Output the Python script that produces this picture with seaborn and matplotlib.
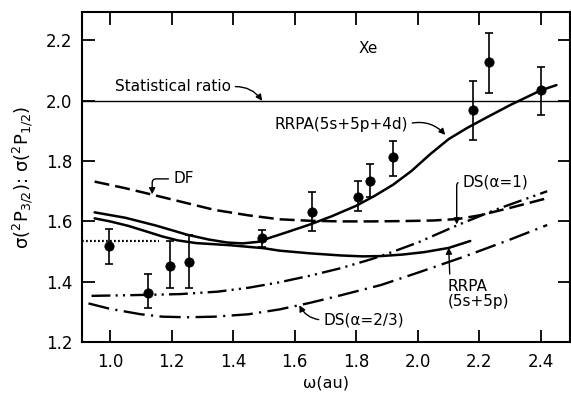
import matplotlib
matplotlib.use("Agg")
import matplotlib.pyplot as plt
import seaborn as sns
import numpy as np

# ---------------- data ----------------
# measured points
pts_w  = [0.996, 1.123, 1.195, 1.255, 1.493, 1.656, 1.806, 1.846, 1.918, 2.178, 2.231, 2.399]
pts_v  = [1.518, 1.364, 1.453, 1.464, 1.544, 1.632, 1.682, 1.735, 1.813, 1.968, 2.128, 2.035]
err_lo = [1.460, 1.312, 1.378, 1.378, 1.514, 1.569, 1.635, 1.682, 1.751, 1.870, 2.027, 1.953]
err_hi = [1.576, 1.425, 1.536, 1.555, 1.571, 1.697, 1.733, 1.789, 1.868, 2.067, 2.226, 2.113]

# RRPA (5s+5p+4d)
rrpa4d_w = [0.95, 1.05, 1.15, 1.25, 1.32, 1.38, 1.43, 1.48, 1.52, 1.58, 1.65, 1.72, 1.80,
            1.86, 1.92, 1.98, 2.04, 2.10, 2.16, 2.22, 2.30, 2.40, 2.45]
rrpa4d_v = [1.630, 1.612, 1.586, 1.556, 1.540, 1.530, 1.527, 1.532, 1.546, 1.566, 1.590, 1.617,
            1.652, 1.685, 1.722, 1.768, 1.823, 1.873, 1.910, 1.943, 1.986, 2.035, 2.052]

# RRPA (5s+5p)
rrpa_w = [0.95, 1.00, 1.06, 1.12, 1.17, 1.22, 1.28, 1.39, 1.50, 1.55, 1.65, 1.75, 1.82,
          1.88, 1.95, 2.02, 2.10, 2.17]
rrpa_v = [1.610, 1.600, 1.585, 1.566, 1.550, 1.537, 1.528, 1.521, 1.511, 1.503, 1.494, 1.487,
          1.484, 1.485, 1.490, 1.498, 1.512, 1.535]

# DF
df_w = [0.95, 1.05, 1.14, 1.24, 1.34, 1.45, 1.55, 1.65, 1.75, 1.85, 1.95, 2.05, 2.13, 2.20, 2.30, 2.42]
df_v = [1.732, 1.710, 1.688, 1.663, 1.638, 1.620, 1.607, 1.602, 1.600, 1.600, 1.601, 1.603,
        1.608, 1.620, 1.645, 1.677]

# DS (alpha = 1)
ds1_w = [0.94, 1.05, 1.15, 1.23, 1.35, 1.45, 1.55, 1.65, 1.75, 1.85, 1.91, 2.00, 2.13, 2.25, 2.42]
ds1_v = [1.353, 1.355, 1.357, 1.359, 1.367, 1.380, 1.398, 1.420, 1.445, 1.475, 1.496, 1.530,
         1.588, 1.638, 1.700]

# DS (alpha = 2/3)
ds23_w = [0.93, 1.00, 1.10, 1.17, 1.25, 1.34, 1.45, 1.55, 1.65, 1.75, 1.88, 2.00, 2.15, 2.30, 2.42]
ds23_v = [1.328, 1.310, 1.292, 1.284, 1.282, 1.284, 1.292, 1.308, 1.330, 1.355, 1.389, 1.430,
          1.483, 1.540, 1.588]

# dotted reference level and statistical ratio
dotted_w = [0.909, 1.16]
dotted_v = [1.536, 1.536]
stat_w = [0.909, 2.494]
stat_v = [2.0, 2.0]

xticks = [1.0, 1.2, 1.4, 1.6, 1.8, 2.0, 2.2, 2.4]
yticks = [1.2, 1.4, 1.6, 1.8, 2.0, 2.2]

# ---------------- style ----------------
sns.set_style("ticks", {"xtick.direction": "in", "ytick.direction": "in"})
plt.rcParams["font.family"] = ["DejaVu Sans"]
plt.rcParams["mathtext.default"] = "regular"

fig = plt.figure(figsize=(5.71, 3.96), dpi=100)
ax = fig.add_axes([82 / 571, 1 - 342 / 396, (570 - 82) / 571, (342 - 12) / 396])

K = "black"

def line(w, v, lw, ls):
    sns.lineplot(x=w, y=v, ax=ax, color=K, lw=lw, estimator=None, sort=False)
    ln = ax.lines[-1]
    if ls is not None:
        ln.set_dashes(ls)
    return ln

line(stat_w, stat_v, 1.0, None)
line(rrpa4d_w, rrpa4d_v, 1.8, None)
line(rrpa_w, rrpa_v, 1.8, None)
line(df_w, df_v, 1.8, (6, 2.4))
line(ds1_w, ds1_v, 1.7, (8, 2.2, 0.9, 2.2, 0.9, 2.2))
line(ds23_w, ds23_v, 1.7, (9, 2.7, 0.9, 2.7))
line(dotted_w, dotted_v, 1.6, (0.8, 1.0))

# error bars and points
ax.errorbar(pts_w, pts_v,
            yerr=[np.array(pts_v) - np.array(err_lo), np.array(err_hi) - np.array(pts_v)],
            fmt="none", ecolor=K, elinewidth=1.2, capsize=3, capthick=1.2, zorder=3)
sns.scatterplot(x=pts_w, y=pts_v, ax=ax, color=K, s=45, edgecolor=K, zorder=4)

ax.set_xlim(0.909, 2.494)
ax.set_ylim(1.2, 2.2945)
ax.set_xticks(xticks)
ax.set_yticks(yticks)
ax.set_xticklabels([f"{t:.1f}" for t in xticks])
ax.set_yticklabels([f"{t:.1f}" for t in yticks])
ax.tick_params(axis="both", which="both", top=True, right=True, length=9, width=1.3,
               labelsize=12, color=K, labelcolor=K)
ax.tick_params(axis="x", pad=8)
ax.tick_params(axis="y", pad=7)
for sp in ax.spines.values():
    sp.set_visible(True)
    sp.set_linewidth(1.5)
    sp.set_color(K)

ax.set_xlabel("ω(au)", fontsize=11.5, labelpad=3, color=K)
ax.set_ylabel(r"$\sigma(^{2}P_{3/2})$: $\sigma(^{2}P_{1/2})$", fontsize=13, labelpad=8, color=K)

# annotations
fs = 11
arw = dict(arrowstyle="-|>", color=K, lw=1.0, mutation_scale=9, shrinkA=1, shrinkB=0)

ax.text(1.839, 2.175, "Xe", fontsize=fs, ha="center", va="center", color=K)

ax.annotate("Statistical ratio", xy=(1.494, 2.0), xytext=(1.392, 2.046),
            ha="right", va="center", fontsize=fs, color=K,
            arrowprops=dict(arw, relpos=(1, 0.5), connectionstyle="arc3,rad=-0.3"))

ax.annotate("RRPA(5s+5p+4d)", xy=(2.089, 1.887), xytext=(1.533, 1.923),
            ha="left", va="center", fontsize=fs, color=K,
            arrowprops=dict(arw, relpos=(1, 0.5), connectionstyle="arc3,rad=-0.3"))

ax.annotate("DF", xy=(1.137, 1.690), xytext=(1.205, 1.741),
            ha="left", va="center", fontsize=fs, color=K,
            arrowprops=dict(arw, relpos=(0, 0.5),
                            connectionstyle="angle,angleA=0,angleB=90,rad=4"))

ax.annotate("DS(α=1)", xy=(2.126, 1.590), xytext=(2.145, 1.731),
            ha="left", va="center", fontsize=fs, color=K,
            arrowprops=dict(arw, relpos=(0, 0.5),
                            connectionstyle="angle,angleA=0,angleB=90,rad=4"))

ax.annotate("RRPA\n(5s+5p)", xy=(2.100, 1.513), xytext=(2.096, 1.410),
            ha="left", va="top", fontsize=fs, color=K, linespacing=1.05,
            arrowprops=dict(arw, relpos=(0.04, 1.0), connectionstyle="arc3,rad=0"))

ax.annotate("DS(α=2/3)", xy=(1.615, 1.322), xytext=(1.693, 1.273),
            ha="left", va="center", fontsize=fs, color=K,
            arrowprops=dict(arw, relpos=(0, 0.5), connectionstyle="arc3,rad=-0.3"))

fig.savefig("out.png", dpi=100)
